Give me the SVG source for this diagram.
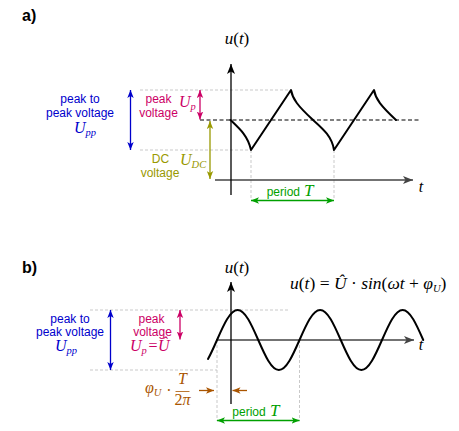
<svg xmlns="http://www.w3.org/2000/svg" width="459" height="431" viewBox="0 0 459 431">
<style>
.sans{font-family:"Liberation Sans",Arial,sans-serif;font-size:12px}
.lbl{font-family:"Liberation Sans",Arial,sans-serif;font-size:16px;font-weight:bold;fill:#000}
.m{font-family:"Liberation Serif","Times New Roman",serif;font-style:italic;font-size:16px}
.big{font-size:17px}
.up{font-style:normal}
.sub{font-size:10.5px}
.guide{stroke:#bbbbbb;stroke-width:0.8;stroke-dasharray:3 2;fill:none}
.wave{stroke:#000;stroke-width:2;fill:none;stroke-linejoin:round;stroke-linecap:round}
.yax{stroke:#000;stroke-width:1.3;fill:none}
.xax{stroke:#444;stroke-width:1.5;fill:none}
.blue{fill:#0000cc}.mag{fill:#cc0066}.olive{fill:#999900}.green{fill:#00a000}.brown{fill:#aa5500}.blk{fill:#000}
.ab{stroke:#0000cc;stroke-width:1.3;marker-start:url(#hb);marker-end:url(#hb)}
.am{stroke:#cc0066;stroke-width:1.3;marker-start:url(#hm);marker-end:url(#hm)}
.ao{stroke:#999900;stroke-width:1.3;marker-start:url(#ho);marker-end:url(#ho)}
.ag{stroke:#00a000;stroke-width:1.3;marker-start:url(#hg);marker-end:url(#hg)}
.ar{stroke:#aa5500;stroke-width:1.3;marker-end:url(#hr)}
</style>
<defs>
<marker id="hk" viewBox="0 0 10 8" refX="10" refY="4" markerWidth="10" markerHeight="8" markerUnits="userSpaceOnUse" orient="auto-start-reverse"><path d="M0,0 L10,4 L0,8 L2.5,4z" fill="#000"/></marker>
<marker id="hx" viewBox="0 0 10 8" refX="10" refY="4" markerWidth="10" markerHeight="8" markerUnits="userSpaceOnUse" orient="auto-start-reverse"><path d="M0,0 L10,4 L0,8 L2.5,4z" fill="#444"/></marker>
<marker id="hb" viewBox="0 0 10 8" refX="10" refY="4" markerWidth="8" markerHeight="7" markerUnits="userSpaceOnUse" orient="auto-start-reverse"><path d="M0,0 L10,4 L0,8 L2.5,4z" fill="#0000cc"/></marker>
<marker id="hm" viewBox="0 0 10 8" refX="10" refY="4" markerWidth="8" markerHeight="7" markerUnits="userSpaceOnUse" orient="auto-start-reverse"><path d="M0,0 L10,4 L0,8 L2.5,4z" fill="#cc0066"/></marker>
<marker id="ho" viewBox="0 0 10 8" refX="10" refY="4" markerWidth="8" markerHeight="7" markerUnits="userSpaceOnUse" orient="auto-start-reverse"><path d="M0,0 L10,4 L0,8 L2.5,4z" fill="#999900"/></marker>
<marker id="hg" viewBox="0 0 10 8" refX="10" refY="4" markerWidth="8" markerHeight="7" markerUnits="userSpaceOnUse" orient="auto-start-reverse"><path d="M0,0 L10,4 L0,8 L2.5,4z" fill="#00a000"/></marker>
<marker id="hr" viewBox="0 0 10 8" refX="10" refY="4" markerWidth="8" markerHeight="7" markerUnits="userSpaceOnUse" orient="auto-start-reverse"><path d="M0,0 L10,4 L0,8 L2.5,4z" fill="#aa5500"/></marker>
</defs>

<g id="panel-a">
  <text class="lbl" x="22" y="21">a)</text>
  <g id="a-guides">
    <line class="guide" x1="140" y1="90" x2="291" y2="90"/>
    <line class="guide" x1="140" y1="150" x2="251" y2="150"/>
    <line class="guide" x1="251" y1="150" x2="251" y2="200"/>
    <line class="guide" x1="334" y1="150" x2="334" y2="200"/>
  </g>
  <g id="a-axes">
    <line class="xax" x1="215" y1="180" x2="413" y2="180" marker-end="url(#hx)"/>
    <line class="yax" x1="231" y1="195" x2="231" y2="64" marker-end="url(#hk)"/>
    <text class="m big" x="237" y="44" text-anchor="middle">u<tspan class="up">(</tspan>t<tspan class="up">)</tspan></text>
    <text class="m" x="421" y="191.5" text-anchor="middle">t</text>
  </g>
  <line id="a-dc-level" x1="200" y1="120" x2="420" y2="120" stroke="#000" stroke-width="1.2" stroke-dasharray="4 2.5"/>
  <path id="a-wave" class="wave" d="M230.5,120 C240,129 248,136 251,150 L291,90 C292.5,99 298,106 312,119 C322,128 332,136 334,150 L374,90 C375.5,99 381,106 396,120"/>
  <g id="a-upp">
    <line class="ab" x1="130.5" y1="90" x2="130.5" y2="150"/>
    <text class="sans blue" x="80" y="102.5" text-anchor="middle">peak to</text>
    <text class="sans blue" x="80" y="116.5" text-anchor="middle">peak voltage</text>
    <text class="m blue" x="74" y="132.5">U<tspan class="sub" dy="3">pp</tspan></text>
  </g>
  <g id="a-up">
    <line class="am" x1="200" y1="90" x2="200" y2="119.5"/>
    <text class="sans mag" x="158.5" y="103" text-anchor="middle">peak</text>
    <text class="sans mag" x="158.5" y="116.5" text-anchor="middle">voltage</text>
    <text class="m mag" x="179" y="107">U<tspan class="sub" dy="3">p</tspan></text>
  </g>
  <g id="a-udc">
    <line class="ao" x1="210" y1="121" x2="210" y2="179"/>
    <text class="sans olive" x="160.5" y="163" text-anchor="middle">DC</text>
    <text class="sans olive" x="160" y="176.5" text-anchor="middle">voltage</text>
    <text class="m olive" x="180" y="165">U<tspan class="sub" dy="3">DC</tspan></text>
  </g>
  <g id="a-period">
    <line class="ag" x1="251" y1="200.5" x2="334" y2="200.5"/>
    <text class="sans green" x="266.7" y="196">period</text>
    <text class="m big green" x="304" y="196">T</text>
  </g>
</g>

<g id="panel-b">
  <text class="lbl" x="22" y="273">b)</text>
  <g id="b-guides">
    <line class="guide" x1="90" y1="310" x2="290" y2="310"/>
    <line class="guide" x1="90" y1="370" x2="217" y2="370"/>
    <line class="guide" x1="217" y1="340" x2="217" y2="421"/>
    <line class="guide" x1="299.5" y1="340" x2="299.5" y2="421"/>
  </g>
  <g id="b-axes">
    <line class="xax" x1="216" y1="340" x2="414" y2="340" marker-end="url(#hx)"/>
    <line class="yax" x1="231" y1="404" x2="231" y2="282" marker-end="url(#hk)"/>
    <text class="m big" x="237" y="273" text-anchor="middle">u<tspan class="up">(</tspan>t<tspan class="up">)</tspan></text>
    <text class="m" x="421" y="349.5" text-anchor="middle">t</text>
  </g>
  <path id="b-wave" class="wave" d="M208,359 C211,353.7 214,346.9 217,340 C223.73,324.63 230.16,310 237.625,310 C245.1,310 251.53,324.63 258.25,340 C264.98,355.37 271.41,370 278.875,370 C286.35,370 292.78,355.37 299.5,340 C306.23,324.63 312.66,310 320.125,310 C327.6,310 334.03,324.63 340.75,340 C347.48,355.37 353.91,370 361.375,370 C368.85,370 375.28,355.37 382,340 C388.73,324.63 395.16,310 402.625,310 C410.1,310 416.53,324.63 423.25,340"/>
  <text id="b-formula" class="m blk" x="290" y="289" style="font-size:17.5px">u<tspan class="up">(</tspan>t<tspan class="up">) = </tspan>Û<tspan class="up"> · </tspan>sin<tspan class="up">(</tspan>ωt<tspan class="up"> + </tspan>φ<tspan class="sub" dy="3">U</tspan><tspan class="up" dy="-3">)</tspan></text>
  <g id="b-upp">
    <line class="ab" x1="110.5" y1="310" x2="110.5" y2="370"/>
    <text class="sans blue" x="70" y="322.5" text-anchor="middle">peak to</text>
    <text class="sans blue" x="70" y="335.7" text-anchor="middle">peak voltage</text>
    <text class="m blue" x="55" y="351">U<tspan class="sub" dy="3">pp</tspan></text>
  </g>
  <g id="b-up">
    <line class="am" x1="180" y1="310" x2="180" y2="339.5"/>
    <text class="sans mag" x="151.5" y="323" text-anchor="middle">peak</text>
    <text class="sans mag" x="152.5" y="335.7" text-anchor="middle">voltage</text>
    <text class="m mag" y="351"><tspan x="130">U</tspan><tspan class="sub" dy="3">p</tspan><tspan class="up" x="148.5" dy="-3">=</tspan><tspan x="158">Û</tspan></text>
  </g>
  <g id="b-phase">
    <text class="m brown" x="145" y="393">φ<tspan class="sub" dy="3">U</tspan></text>
    <text class="m brown up" x="169" y="396" text-anchor="middle">·</text>
    <text class="m brown" x="182.5" y="383.5" text-anchor="middle">T</text>
    <line x1="175.5" y1="391.5" x2="189.5" y2="391.5" stroke="#aa5500" stroke-width="0.8"/>
    <text class="m brown" x="182.5" y="405" text-anchor="middle"><tspan class="up">2</tspan>π</text>
    <line class="ar" x1="199" y1="390.5" x2="214" y2="390.5"/>
    <line class="ar" x1="247" y1="390.5" x2="232.5" y2="390.5"/>
  </g>
  <g id="b-period">
    <line class="ag" x1="217" y1="420.5" x2="299.5" y2="420.5"/>
    <text class="sans green" x="232.3" y="416">period</text>
    <text class="m big green" x="270" y="416">T</text>
  </g>
</g>
</svg>
